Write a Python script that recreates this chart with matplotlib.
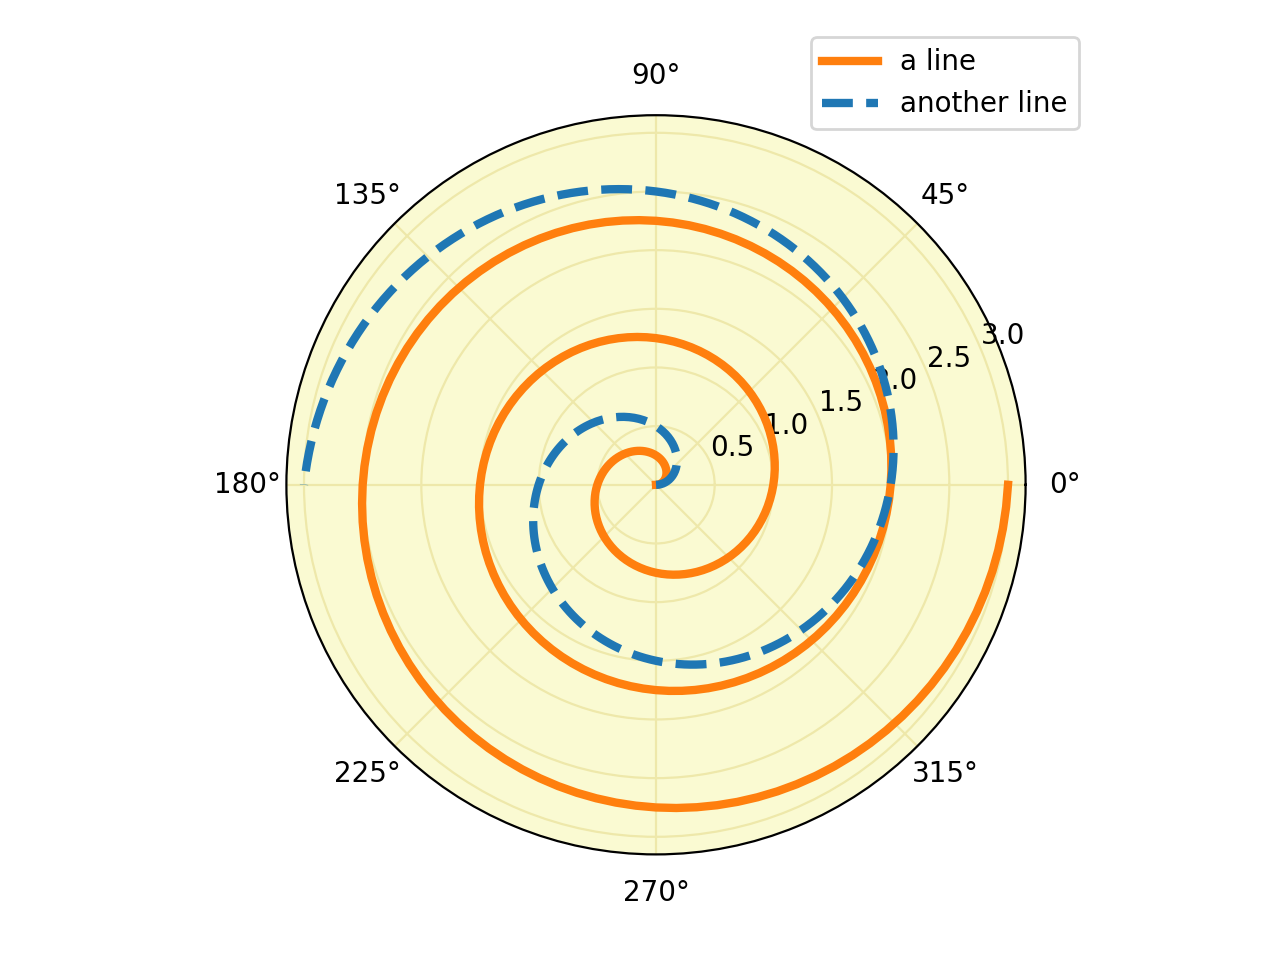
import numpy as np
import matplotlib
matplotlib.use("Agg")
import matplotlib.pyplot as plt

# Spiral data: radius samples and angle per unit radius (turns)
radius = np.linspace(0, 3, 301)
orange_turns_per_unit = 1.0   # "a line": theta = 2*pi*r
blue_turns_per_unit = 0.5     # "another line": theta = pi*r
labels = ["a line", "another line"]

fig, ax = plt.subplots(figsize=(6.4, 4.8), dpi=200,
                       subplot_kw={"projection": "polar",
                                   "facecolor": "lightgoldenrodyellow"})

ax.plot(2 * np.pi * orange_turns_per_unit * radius, radius,
        color="tab:orange", lw=3, label=labels[0])
ax.plot(2 * np.pi * blue_turns_per_unit * radius, radius,
        color="tab:blue", ls="--", lw=3, label=labels[1])

ax.tick_params(grid_color="palegoldenrod")

angle = np.deg2rad(67.5)
ax.legend(loc="lower left",
          bbox_to_anchor=(.5 + np.cos(angle) / 2, .5 + np.sin(angle) / 2))

fig.savefig("out.png", dpi=200)
